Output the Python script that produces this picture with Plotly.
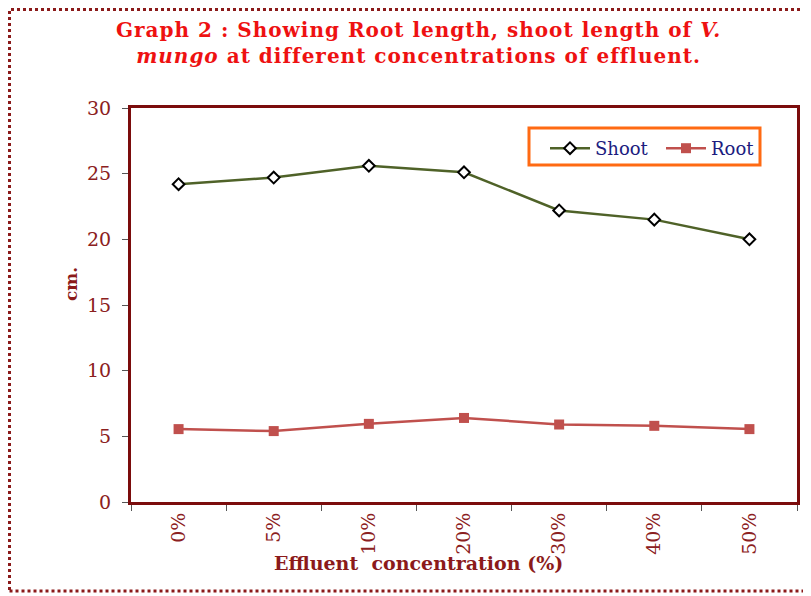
import plotly.graph_objects as go

categories = ["0%", "5%", "10%", "20%", "30%", "40%", "50%"]
shoot = [24.2, 24.7, 25.6, 25.1, 22.2, 21.5, 20.0]
root = [5.55, 5.4, 5.95, 6.4, 5.9, 5.8, 5.55]
y_ticks = [0, 5, 10, 15, 20, 25, 30]

OFF = 8  # page body margin
W, H = 811 - OFF, 596 - OFF
L, R, T, B = 131 - OFF, 14, 108 - OFF, 94
pw, ph = W - L - R, H - T - B

def px(x):
    return (x - OFF - L) / pw

def py(y):
    return (H - B - (y - OFF)) / ph

serif = "DejaVu Serif"
dark_red = "#7b0c0c"
title_red = "#ee1111"

fig = go.Figure()
fig.add_trace(go.Scatter(
    x=categories, y=shoot, name="Shoot", mode="lines+markers",
    line=dict(color="#4f6228", width=2.5),
    marker=dict(symbol="diamond", size=9, color="white",
                line=dict(color="black", width=2)),
))
fig.add_trace(go.Scatter(
    x=categories, y=root, name="Root", mode="lines+markers",
    line=dict(color="#c0504d", width=2.5),
    marker=dict(symbol="square", size=10, color="#c0504d"),
))

title_text = ('<span style="letter-spacing:1px"><b>Graph 2 : Showing Root length, shoot length of <i>V.</i></b></span><br>'
              '<span style="letter-spacing:1px"><b><i>mungo</i> at different concentrations of effluent.</b></span>')

fig.update_layout(
    width=W, height=H,
    margin=dict(l=L, r=R, t=T, b=B, autoexpand=False),
    paper_bgcolor="white", plot_bgcolor="white",
    showlegend=True,
    legend=dict(orientation="h", x=px(545), y=py(130), xanchor="left", yanchor="top",
                borderwidth=0, bgcolor="rgba(0,0,0,0)",
                font=dict(family=serif, size=18, color="#1c1c80"),
                itemwidth=40, entrywidth=61, tracegroupgap=0),
    xaxis=dict(
        type="category", range=[-0.5, 6.5], showline=True, linecolor=dark_red,
        linewidth=3, mirror=True,
        ticks="outside", tickson="boundaries", ticklen=6, tickcolor="#555",
        tickangle=-90, showgrid=False,
        tickfont=dict(family=serif, size=19, color="#8b2020"),
    ),
    yaxis=dict(
        range=[0, 30], tickvals=y_ticks, showline=True, linecolor=dark_red, linewidth=3,
        mirror=True, ticks="outside", ticklen=6, tickcolor="#555", showgrid=False,
        zeroline=False, ticklabelstandoff=7,
        tickfont=dict(family=serif, size=19, color="#8b2020"),
    ),
    annotations=[
        dict(text=title_text,
             x=px(418), y=py(43), xref="paper", yref="paper", showarrow=False,
             xanchor="center", yanchor="middle",
             font=dict(family=serif, size=20, color=title_red)),
        dict(text="<b>Effluent  concentration (%)</b>", x=px(418), y=py(563),
             xref="paper", yref="paper", showarrow=False, xanchor="center", yanchor="middle",
             font=dict(family=serif, size=19, color="#8b1a1a")),
        dict(text="<b>cm.</b>", x=px(71), y=py(284), xref="paper", yref="paper",
             showarrow=False, textangle=-90, xanchor="center", yanchor="middle",
             font=dict(family=serif, size=17, color="#8b1a1a")),
    ],
    shapes=[
        dict(type="rect", xref="paper", yref="paper",
             x0=px(OFF + 1.5), x1=px(840), y0=py(591), y1=py(OFF + 1.5),
             line=dict(color="#8b1a1a", width=3, dash="dot"), layer="below"),
        dict(type="rect", xref="paper", yref="paper",
             x0=px(529), x1=px(760), y0=py(165), y1=py(128),
             line=dict(color="#ff6a13", width=3), fillcolor="white", layer="below"),
    ],
)

fig.write_html("out.html")
